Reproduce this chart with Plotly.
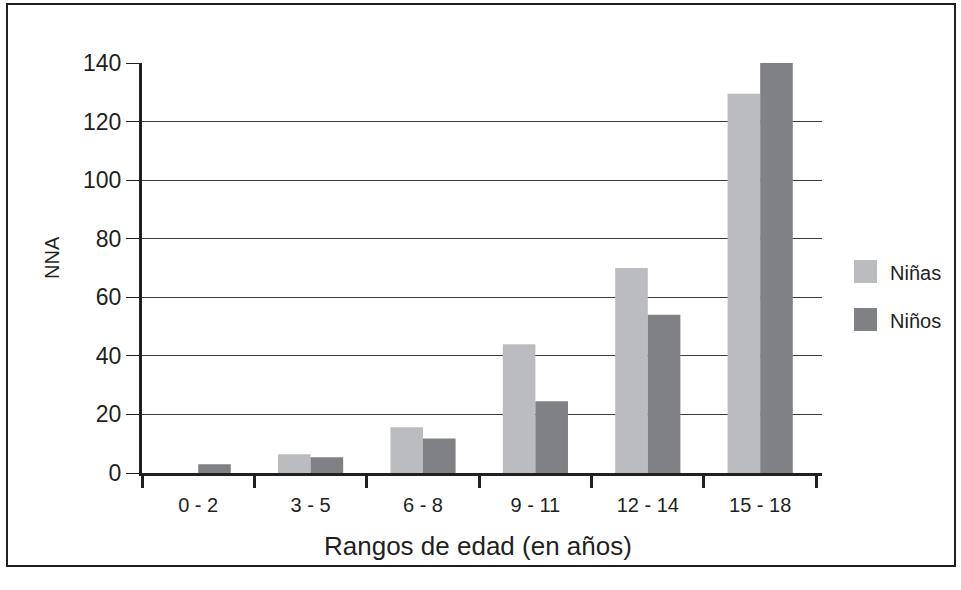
import plotly.graph_objects as go

categories = ["0 - 2", "3 - 5", "6 - 8", "9 - 11", "12 - 14", "15 - 18"]
ninas = [0, 6.4, 15.6, 44, 70, 129.5]
ninos = [3, 5.4, 11.8, 24.5, 54, 140]
series_names = ["Niñas", "Niños"]
colors = ["#bbbcc0", "#808185"]
y_ticks = [0, 20, 40, 60, 80, 100, 120, 140]

W, H = 961, 590
X0, X1, Y0, Y1 = 142, 822, 63, 473  # plot area in image pixels
pw, ph = X1 - X0, Y1 - Y0
L, T = X0, Y0
R, B = W - L - pw, H - T - ph

def px(x):
    return (x - X0) / pw

def py(y):
    return (Y1 - y) / ph

FONT = "Liberation Sans, Arial, sans-serif"
TXT = "#231f20"

fig = go.Figure()
for name, vals, col in zip(series_names, [ninas, ninos], colors):
    fig.add_trace(go.Bar(x=categories, y=vals, name=name, marker=dict(color=col, line=dict(width=0)),
                         showlegend=False, hoverinfo="x+y+name"))

shapes = [
    dict(type="rect", xref="paper", yref="paper", x0=px(7), x1=px(955), y0=py(566), y1=py(4),
         line=dict(color="#231f20", width=2), fillcolor="rgba(0,0,0,0)", layer="above"),
]
annotations = []
for i, (name, col) in enumerate(zip(series_names, colors)):
    top = 260 + i * 48
    shapes.append(dict(type="rect", xref="paper", yref="paper", x0=px(854), x1=px(877),
                       y0=py(top + 23), y1=py(top), line=dict(width=0), fillcolor=col))
    annotations.append(dict(text=name, xref="paper", yref="paper", x=px(888), y=py(top + 13),
                            xanchor="left", yanchor="middle", showarrow=False,
                            font=dict(family=FONT, size=20, color=TXT)))

annotations.append(dict(text="NNA", xref="paper", yref="paper", x=px(52), y=py(258),
                        textangle=-90, showarrow=False, xanchor="center", yanchor="middle",
                        font=dict(family=FONT, size=20, color=TXT)))
annotations.append(dict(text="Rangos de edad (en años)", xref="paper", yref="paper",
                        x=px(477.5), y=py(546), showarrow=False, xanchor="center", yanchor="middle",
                        font=dict(family=FONT, size=26, color=TXT)))

fig.update_layout(
    width=W, height=H,
    margin=dict(l=L, r=R, t=T, b=B, pad=0),
    paper_bgcolor="white", plot_bgcolor="white",
    barmode="group", bargap=0.42, bargroupgap=0,
    font=dict(family=FONT, color=TXT),
    shapes=shapes, annotations=annotations,
    showlegend=False,
)
fig.update_xaxes(
    range=[-0.5, 5.55],
    showline=True, linecolor="#231f20", linewidth=2.5,
    ticks="outside", tickson="boundaries", ticklen=12, tickwidth=2.5, tickcolor="#231f20",
    ticklabelstandoff=12,
    tickfont=dict(family=FONT, size=20, color=TXT), showgrid=False,
)
fig.update_yaxes(
    range=[0, 140], tickvals=y_ticks, ticktext=[str(v) for v in y_ticks],
    showline=True, linecolor="#231f20", linewidth=3,
    ticks="outside", ticklen=13, tickwidth=1.2, tickcolor="#231f20",
    showgrid=True, gridcolor="#3a3a3a", gridwidth=1.2, zeroline=False,
    tickfont=dict(family=FONT, size=23, color=TXT),
)

fig.write_html("out.html", config={"displayModeBar": False},
               post_script="document.body.style.margin='0';")
